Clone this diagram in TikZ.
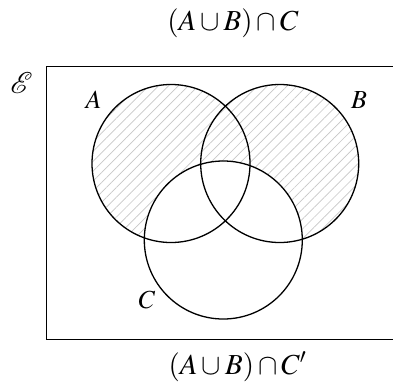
\documentclass[tikz,border=0pt]{standalone}
\usepackage{mathptmx}
\usepackage{mathrsfs}
\usepackage{graphicx}
\usetikzlibrary{patterns.meta}
\newcommand{\mycup}{\mskip2.5mu{\cup}\mskip2.5mu}
\newcommand{\mycap}{\mskip2.5mu{\cap}\mskip2.5mu}
\begin{document}
\begin{tikzpicture}[x=1pt,y=-1pt,
  circ/.style={line width=1.3pt},
  lbl/.style={font=\fontsize{26}{29}\selectfont, inner sep=0pt},
  ttl/.style={font=\fontsize{29}{32}\selectfont, inner sep=0pt},
  hatch/.style={pattern={Lines[angle=45,distance=7pt,line width=0.7pt]}, pattern color=black!22}]
\useasboundingbox (0,0) rectangle (393,383);
\clip (0,0) rectangle (393,383);
\coordinate (cA) at (171,163.5);
\coordinate (cB) at (279.7,163.5);
\coordinate (cC) at (223.3,240);
\fill[hatch] (cA) circle[radius=79] (cB) circle[radius=79];
\fill[white] (cC) circle[radius=79];
\draw[line width=1pt] (46.7,66) rectangle (420,339);
\draw[circ] (cA) circle[radius=79];
\draw[circ] (cB) circle[radius=79];
\draw[circ] (cC) circle[radius=79];
\node[ttl] (top) at (233,23.5) {$(A\mycup B)\mycap C$};
\node[ttl] (bot) at (237.5,366.5) {$(A\mycup B)\mycap C'$};
\node[inner sep=0pt] (E) at (21.5,82.5) {\resizebox{!}{21pt}{$\mathscr{E}$}};
\node[lbl] (la) at (93.5,100) {$A$};
\node[lbl] (lb) at (359,100) {$B$};
\node[lbl] (lc) at (147,300) {$C$};
\end{tikzpicture}
\end{document}
